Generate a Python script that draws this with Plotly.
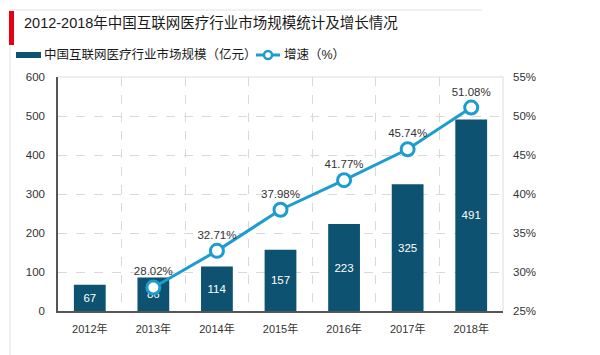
import plotly.graph_objects as go

years = ["2012年", "2013年", "2014年", "2015年", "2016年", "2017年", "2018年"]
market_size = [67, 86, 114, 157, 223, 325, 491]
growth_years = ["2013年", "2014年", "2015年", "2016年", "2017年", "2018年"]
growth_rate = [28.02, 32.71, 37.98, 41.77, 45.74, 51.08]
left_ticks = [0, 100, 200, 300, 400, 500, 600]
right_ticks = [25, 30, 35, 40, 45, 50, 55]

BAR = "#0D5270"
LINE = "#1C9CCF"
FONT = "Liberation Sans, Noto Sans CJK SC, sans-serif"

W, H = 600, 355
ML, MR, MT, MB = 58, 97, 77, 44
pw, ph = W - ML - MR, H - MT - MB


def px(x):
    return (x - ML) / pw


def py(y):
    return (H - MB - y) / ph


fig = go.Figure()
fig.add_trace(go.Bar(
    x=years, y=market_size, name="中国互联网医疗行业市场规模（亿元）",
    marker=dict(color=BAR, line=dict(width=0)),
    text=[str(v) for v in market_size], textposition="inside",
    insidetextanchor="middle", textangle=0,
    textfont=dict(color="white", size=11.5, family=FONT),
    cliponaxis=False, showlegend=False,
))
fig.add_trace(go.Scatter(
    x=growth_years, y=growth_rate, name="增速（%）", yaxis="y2",
    mode="lines+markers+text",
    line=dict(color=LINE, width=3),
    marker=dict(size=13, color="white", line=dict(color=LINE, width=3)),
    text=[f"{v:.2f}%" for v in growth_rate], textposition="top center",
    textfont=dict(color="#333333", size=11.5, family=FONT),
    cliponaxis=False, showlegend=False,
))

fig.update_layout(
    width=W, height=H,
    margin=dict(l=ML, r=MR, t=MT, b=MB, autoexpand=False),
    paper_bgcolor="white", plot_bgcolor="white",
    font=dict(family=FONT, color="#333333", size=11),
    bargap=0.5,
    showlegend=False,
    xaxis=dict(type="category", categoryorder="array", categoryarray=years,
               showline=True, linecolor="#555555", linewidth=1.5,
               tickson="boundaries", ticks="", showgrid=True,
               gridcolor="#d9d9d9", griddash="dash", gridwidth=1,
               tickfont=dict(size=11, color="#333333"), ticklabelstandoff=7),
    yaxis=dict(range=[0, 600], tickvals=left_ticks, showline=True,
               linecolor="#555555", linewidth=1.5, showgrid=True,
               gridcolor="#d9d9d9", griddash="dash", zeroline=False,
               tickfont=dict(size=11.5, color="#333333"), ticklabelstandoff=9),
    yaxis2=dict(range=[25, 55], tickvals=right_ticks,
                ticktext=[f"{v}%" for v in right_ticks],
                overlaying="y", side="right", showgrid=False, zeroline=False,
                showline=False, tickfont=dict(size=11.5, color="#333333"),
                ticklabelstandoff=9),
)

shapes = [
    dict(type="line", xref="paper", yref="paper", x0=0, x1=1, y0=1, y1=1,
         line=dict(color="#dddddd", width=1)),
    dict(type="line", xref="paper", yref="paper", x0=1, x1=1, y0=0, y1=1,
         line=dict(color="#dddddd", width=1)),
    # outer frame
    dict(type="line", xref="paper", yref="paper", x0=px(10), x1=px(482),
         y0=py(10), y1=py(10), line=dict(color="#e3e3e3", width=1)),
    dict(type="line", xref="paper", yref="paper", x0=px(10), x1=px(10),
         y0=py(10), y1=py(355), line=dict(color="#e3e3e3", width=1)),
    # red title marker
    dict(type="rect", xref="paper", yref="paper", x0=px(9), x1=px(14),
         y0=py(45), y1=py(11), fillcolor="#e60012", line=dict(width=0)),
    # legend: bar swatch
    dict(type="rect", xref="paper", yref="paper", x0=px(16), x1=px(41),
         y0=py(58), y1=py(52), fillcolor=BAR, line=dict(width=0)),
    # legend: line swatch
    dict(type="line", xref="paper", yref="paper", x0=px(256), x1=px(280),
         y0=py(55), y1=py(55), line=dict(color=LINE, width=3)),
    dict(type="circle", xref="paper", yref="paper", x0=px(264), x1=px(272),
         y0=py(59), y1=py(51), fillcolor="white", line=dict(color=LINE, width=2.5)),
]

annotations = [
    dict(text="2012-2018年中国互联网医疗行业市场规模统计及增长情况",
         x=px(22), y=py(23), xref="paper", yref="paper", showarrow=False,
         xanchor="left", yanchor="middle",
         font=dict(size=14.5, color="#1a1a1a", family=FONT)),
    dict(text="中国互联网医疗行业市场规模（亿元）",
         x=px(42), y=py(55), xref="paper", yref="paper", showarrow=False,
         xanchor="left", yanchor="middle",
         font=dict(size=12.5, color="#1a1a1a", family=FONT)),
    dict(text="增速（%）",
         x=px(282), y=py(55), xref="paper", yref="paper", showarrow=False,
         xanchor="left", yanchor="middle",
         font=dict(size=12.5, color="#1a1a1a", family=FONT)),
]
fig.update_layout(shapes=shapes, annotations=annotations)

fig.write_html("out.html", config={"displayModeBar": False},
               post_script="document.body.style.margin='0';document.body.style.padding='0';")
